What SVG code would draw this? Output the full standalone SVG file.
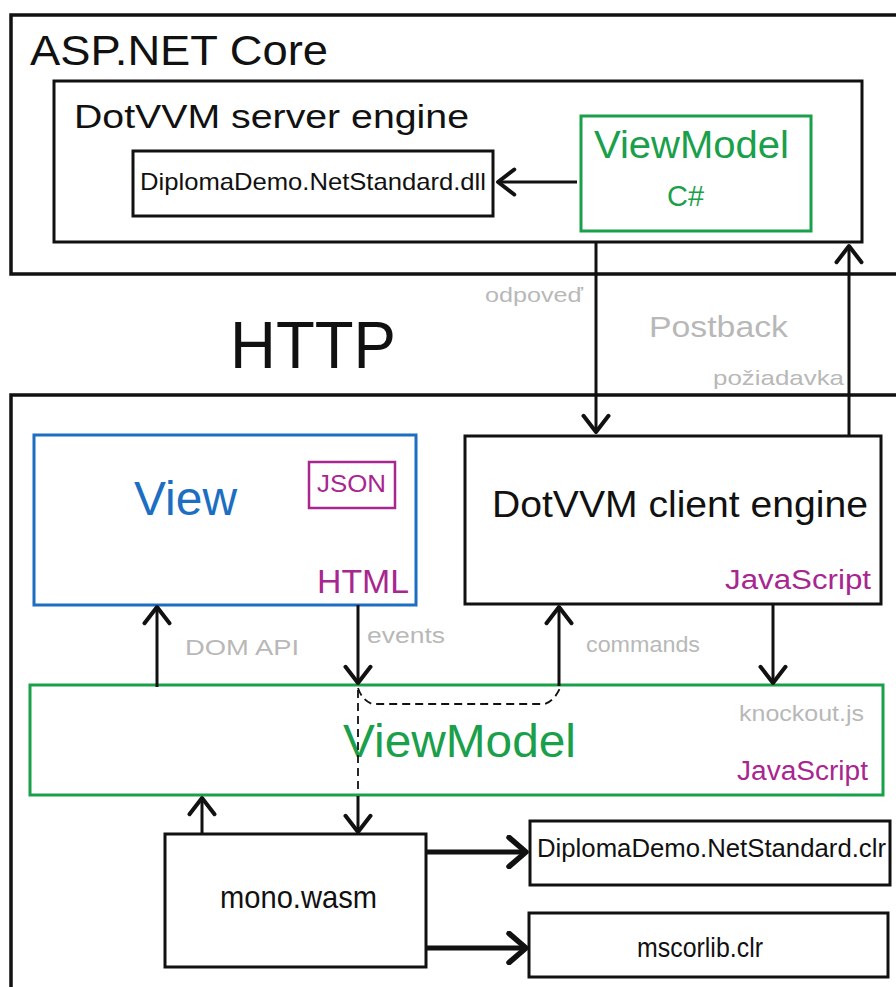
<svg xmlns="http://www.w3.org/2000/svg" width="896" height="987" viewBox="0 0 896 987">
<defs>
<style>
text{font-family:"Liberation Sans Narrow","Liberation Sans",Arial,sans-serif;}
.box{fill:#ffffff;stroke:#111111;stroke-width:3;}
.outer{fill:none;stroke:#111111;stroke-width:3.5;}
.green{fill:#ffffff;stroke:#1a9f4b;stroke-width:3;}
.blue{fill:#ffffff;stroke:#1b6ec2;stroke-width:3;}
.mag{fill:none;stroke:#a8268f;stroke-width:2.5;}
.conn{fill:none;stroke:#111111;stroke-width:3;marker-end:url(#arr);}
.thick{fill:none;stroke:#111111;stroke-width:5;marker-end:url(#arr2);}
.dash{fill:none;stroke:#111111;stroke-width:1.8;stroke-dasharray:8 5;}
.t{fill:#111111;}
.g{fill:#b8b8b8;}
.tg{fill:#1a9f4b;}
.tb{fill:#1b6ec2;}
.tm{fill:#a8268f;}
</style>
<marker id="arr" markerUnits="userSpaceOnUse" markerWidth="30" markerHeight="30" refX="0" refY="0" viewBox="-16 -12 20 24" orient="auto">
<path d="M-13,-10 L0,0 L-13,10" fill="none" stroke="#111111" stroke-width="3.2" stroke-linecap="round" stroke-linejoin="round"/>
</marker>
<marker id="arr2" markerUnits="userSpaceOnUse" markerWidth="34" markerHeight="34" refX="0" refY="0" viewBox="-18 -14 22 28" orient="auto">
<path d="M-14,-12 L0,0 L-14,12" fill="none" stroke="#111111" stroke-width="4.5" stroke-linecap="round" stroke-linejoin="round"/>
</marker>
</defs>

<g id="asp-net-core">
<path class="outer" d="M905,15 H11 V274 H905"/>
<text x="30" y="65" font-size="42" textLength="298" lengthAdjust="spacingAndGlyphs" class="t">ASP.NET Core</text>
</g>

<g id="server-engine">
<rect class="box" x="54" y="81" width="808" height="161"/>
<text x="74" y="128" font-size="34" textLength="395" lengthAdjust="spacingAndGlyphs" class="t">DotVVM server engine</text>
</g>

<g id="dll">
<rect class="box" x="133" y="151" width="360" height="65"/>
<text x="140" y="190" font-size="24" textLength="346" lengthAdjust="spacingAndGlyphs" class="t">DiplomaDemo.NetStandard.dll</text>
</g>

<g id="viewmodel-cs">
<rect class="green" x="581" y="116" width="230" height="115"/>
<text x="594" y="158" font-size="39" textLength="195" lengthAdjust="spacingAndGlyphs" class="tg">ViewModel</text>
<text x="667" y="206" font-size="30" textLength="37" lengthAdjust="spacingAndGlyphs" class="tg">C#</text>
</g>

<g id="http">
<text x="230" y="368" font-size="66" textLength="166" lengthAdjust="spacingAndGlyphs" class="t">HTTP</text>
<text x="485" y="302" font-size="20" textLength="98" lengthAdjust="spacingAndGlyphs" class="g">odpoveď</text>
<text x="649" y="337" font-size="30" textLength="139" lengthAdjust="spacingAndGlyphs" class="g">Postback</text>
<text x="713" y="385" font-size="21" textLength="131" lengthAdjust="spacingAndGlyphs" class="g">požiadavka</text>
</g>

<g id="browser">
<path class="outer" d="M905,395 H11 V995"/>
</g>

<g id="view">
<rect class="blue" x="34" y="435" width="382" height="170"/>
<text x="134" y="515" font-size="48" textLength="103" lengthAdjust="spacingAndGlyphs" class="tb">View</text>
<rect class="mag" x="309" y="462" width="86" height="46"/>
<text x="317" y="492" font-size="24" textLength="69" lengthAdjust="spacingAndGlyphs" class="tm">JSON</text>
<text x="317" y="593" font-size="34" textLength="92" lengthAdjust="spacingAndGlyphs" class="tm">HTML</text>
</g>

<g id="client-engine">
<rect class="box" x="465" y="436" width="416" height="168"/>
<text x="492" y="517" font-size="36" textLength="376" lengthAdjust="spacingAndGlyphs" class="t">DotVVM client engine</text>
<text x="725" y="589" font-size="27" textLength="146" lengthAdjust="spacingAndGlyphs" class="tm">JavaScript</text>
</g>

<g id="viewmodel-js">
<rect class="green" x="30" y="685" width="853" height="110"/>
<text x="343" y="757" font-size="46" textLength="233" lengthAdjust="spacingAndGlyphs" class="tg">ViewModel</text>
<text x="739" y="721" font-size="22" textLength="125" lengthAdjust="spacingAndGlyphs" class="g">knockout.js</text>
<text x="737" y="780" font-size="27" textLength="131" lengthAdjust="spacingAndGlyphs" class="tm">JavaScript</text>
</g>

<g id="mono-wasm">
<rect class="box" x="165" y="834" width="261" height="133"/>
<text x="220" y="908" font-size="32" textLength="157" lengthAdjust="spacingAndGlyphs" class="t">mono.wasm</text>
</g>

<g id="dll-clr">
<rect class="box" x="530" y="821" width="360" height="64"/>
<text x="537" y="857" font-size="25" textLength="349" lengthAdjust="spacingAndGlyphs" class="t">DiplomaDemo.NetStandard.clr</text>
</g>

<g id="mscorlib">
<rect class="box" x="529" y="913" width="359" height="64"/>
<text x="637" y="957" font-size="27" textLength="126" lengthAdjust="spacingAndGlyphs" class="t">mscorlib.clr</text>
</g>

<g id="connectors">
<path class="conn" d="M577,182 H498"/>
<path class="conn" d="M596,242 V432"/>
<path class="conn" d="M849,436 V246"/>
<path class="conn" d="M157,687 V607"/>
<path class="conn" d="M358,605 V683"/>
<path class="conn" d="M559,686 V607"/>
<path class="conn" d="M773,604 V683"/>
<path class="conn" d="M358,796 V832"/>
<path class="conn" d="M202,834 V798"/>
<path class="thick" d="M427,852 H526"/>
<path class="thick" d="M427,948 H526"/>
<path class="dash" d="M358,688 Q362,700 372,704 H545 Q555,700 560,688"/>
<path class="dash" d="M358,690 V794"/>
<text x="185" y="655" font-size="22" textLength="114" lengthAdjust="spacingAndGlyphs" class="g">DOM API</text>
<text x="367" y="643" font-size="22" textLength="78" lengthAdjust="spacingAndGlyphs" class="g">events</text>
<text x="586" y="652" font-size="22" textLength="114" lengthAdjust="spacingAndGlyphs" class="g">commands</text>
</g>
</svg>
